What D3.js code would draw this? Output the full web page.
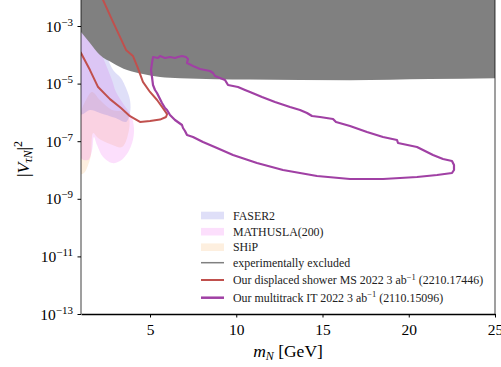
<!DOCTYPE html>
<html><head><meta charset="utf-8">
<script src="https://cdn.jsdelivr.net/npm/d3@7"></script>
<style>body{margin:0;background:#fff}svg{display:block}</style>
</head><body><svg id="c" width="501" height="367"></svg>
<script>
// ---- data ----
const xTicks = [5, 10, 15, 20, 25];
const yTickExps = [-3, -5, -7, -9, -11, -13];

// experimentally excluded boundary (m_N, log10 |V|^2)
const exclM    = [1.0, 1.52, 2.10, 2.86, 3.67, 4.59, 5.58, 6.74, 10.8, 16.6, 21.2, 25.0];
const exclLogV = [-3.21, -3.59, -4.01, -4.29, -4.53, -4.67, -4.77, -4.81, -4.86, -4.88, -4.84, -4.81];

// FASER2
const faserM    = [1.0, 1.41, 1.81, 2.10, 2.45, 2.86, 3.32, 3.61, 3.84, 3.84, 3.61, 2.97, 2.10, 1.52, 1.0];
const faserLogV = [-1.9, -2.44, -3.14, -3.66, -4.01, -4.53, -4.81, -5.15, -5.57, -6.02, -6.33, -6.19, -6.02, -5.92, -6.06];

// MATHUSLA(200)
const mathM    = [1.0, 1.29, 1.64, 2.10, 2.45, 2.80, 3.03, 3.49, 3.90, 4.07, 4.01, 3.73, 3.26, 2.80, 2.28, 1.93, 1.75, 1.64, 1.41, 1.0];
const mathLogV = [-1.9, -2.44, -3.14, -3.83, -4.35, -4.88, -5.29, -5.74, -6.09, -6.54, -6.96, -7.38, -7.69, -7.76, -7.55, -7.13, -6.85, -7.31, -7.65, -7.58];

// SHiP
const shipM    = [1.0, 1.29, 1.64, 2.10, 2.80, 3.55, 3.78, 3.78, 3.38, 2.68, 1.99, 1.70, 1.58, 1.41, 1.23, 1.0];
const shipLogV = [-6.02, -5.57, -5.29, -5.57, -5.92, -5.99, -6.19, -6.61, -7.20, -7.10, -6.89, -6.72, -7.48, -7.83, -8.07, -8.14];

// displaced shower MS
const redM    = [2.16, 2.28, 2.80, 3.26, 3.61, 4.01, 4.30, 4.59, 5.00, 5.41, 5.75, 5.99, 5.93, 5.58, 5.00, 4.42, 3.84, 3.32, 2.68, 1.99, 1.52, 1.00, 0.85];
const redLogV = [-1.93, -2.10, -2.79, -3.38, -3.83, -4.04, -4.46, -4.94, -5.29, -5.57, -5.85, -6.06, -6.16, -6.25, -6.30, -6.33, -6.13, -5.85, -5.54, -5.12, -4.53, -3.94, -3.80];

// multitrack IT
const purM = [5.174, 5.464, 5.580, 5.870, 6.159, 6.449, 6.623, 6.855, 7.087, 7.203, 7.145, 7.493, 7.899, 8.188, 8.478, 8.652, 8.768, 9.348, 9.522, 10.101, 10.507, 10.797, 11.493, 12.246, 13.116, 13.696, 14.101, 14.391, 14.855, 15.609, 15.783, 16.594, 17.580, 18.507, 19.319, 19.377, 20.478, 21.406, 21.986, 22.507, 22.623, 22.623, 22.507, 21.638, 20.478, 18.507, 16.594, 14.681, 12.710, 11.203, 9.812, 8.884, 8.072, 7.493, 7.145, 7.029, 6.913, 6.855, 6.449, 6.159, 5.986, 5.870, 5.696, 5.406, 5.290, 5.174, 5.116, 5.058, 5.116];
const purLogV = [-4.076, -4.111, -4.042, -4.111, -4.076, -4.111, -4.076, -4.042, -4.076, -4.146, -4.285, -4.389, -4.493, -4.528, -4.563, -4.632, -4.736, -4.875, -5.049, -5.118, -5.222, -5.292, -5.465, -5.639, -5.813, -5.917, -6.021, -6.125, -6.160, -6.229, -6.333, -6.472, -6.681, -6.854, -6.958, -7.063, -7.201, -7.479, -7.618, -7.688, -7.826, -8.0, -8.104, -8.174, -8.243, -8.313, -8.313, -8.208, -8.0, -7.757, -7.479, -7.236, -7.028, -6.854, -6.785, -6.646, -6.542, -6.438, -6.264, -6.090, -5.917, -5.847, -5.674, -5.326, -5.222, -5.049, -4.771, -4.528, -4.285];

const legendLabels = ["FASER2", "MATHUSLA(200)", "SHiP", "experimentally excluded",
  ["Our displaced shower MS 2022 3 ab", "\u22121", " (2210.17446)"],
  ["Our multitrack IT 2022 3 ab", "\u22121", " (2110.15096)"]];

// ---- drawing ----
const svg = d3.select("#c");
const X0 = 81, X1 = 495, Y0 = 314;
const x = d3.scaleLinear().domain([1, 25]).range([X0, X1]);
const y = d3.scaleLog().domain([1e-13, 1e-2]).range([Y0, Y0 - 11 * 28.8]);
const pts = (ms, ls) => ms.map((m, i) => [m, Math.pow(10, ls[i])]);

svg.append("defs").append("clipPath").attr("id", "clip")
  .append("rect").attr("x", X0).attr("y", -5).attr("width", X1 - X0).attr("height", Y0 + 5);
const g = svg.append("g").attr("clip-path", "url(#clip)");

const line = d3.line().x(d => x(d[0])).y(d => y(d[1]));
const closedSmooth = d3.line().x(d => x(d[0])).y(d => y(d[1])).curve(d3.curveCatmullRomClosed.alpha(0.5));

// shaded projections
const regions = [
  {m: shipM, v: shipLogV, fill: "#f5b060", op: 0.2},
  {m: mathM, v: mathLogV, fill: "#f060f0", op: 0.2},
  {m: faserM, v: faserLogV, fill: "#6f6fe0", op: 0.22},
];
regions.forEach(r => {
  g.append("path").attr("d", closedSmooth(pts(r.m, r.v)))
    .attr("fill", r.fill).attr("fill-opacity", r.op).attr("stroke", "none");
});

// excluded region
const excl = pts(exclM, exclLogV);
const exclArea = d3.area().x(d => x(d[0])).y0(d => y(d[1])).y1(y(1)).curve(d3.curveMonotoneX);
g.append("path").attr("d", exclArea(excl)).attr("fill", "#808080");

// red curve
g.append("path").attr("d", line(pts(redM, redLogV)))
  .attr("fill", "none").attr("stroke", "#c0504d").attr("stroke-width", 2).attr("stroke-linejoin", "round");

// purple curve
g.append("path").attr("d", line(pts(purM, purLogV)) + "Z")
  .attr("fill", "none").attr("stroke", "#a040a4").attr("stroke-width", 2.2).attr("stroke-linejoin", "round");

// axes
const serif = "'Liberation Serif', 'DejaVu Serif', serif";
const xAxis = svg.append("g").attr("transform", `translate(0,${Y0})`)
  .call(d3.axisBottom(x).tickValues(xTicks).tickSize(3.5).tickSizeOuter(0).tickPadding(4));
xAxis.select(".domain").attr("stroke", "#000").attr("stroke-width", 1.3);
xAxis.selectAll(".tick line").attr("stroke", "#000").attr("stroke-width", 1);
xAxis.selectAll(".tick text").attr("font-family", serif).attr("font-size", 15.5).attr("fill", "#000")
  .attr("dy", null).attr("y", 21);

const yAxis = svg.append("g").attr("transform", `translate(${X0},0)`)
  .call(d3.axisLeft(y).tickValues(yTickExps.map(e => Math.pow(10, e))).tickSize(3.5).tickSizeOuter(0).tickFormat(""));
yAxis.select(".domain").remove();
yAxis.selectAll(".tick line").attr("stroke", "#000").attr("stroke-width", 1);
yAxis.selectAll(".tick").each(function(d) {
  const t = d3.select(this).append("text").attr("x", -8).attr("y", 5)
    .attr("text-anchor", "end").attr("font-family", serif).attr("font-size", 15.5).attr("fill", "#000");
  t.append("tspan").text("10");
  t.append("tspan").attr("dy", -6).attr("font-size", 11).text("\u2212" + Math.round(-Math.log10(d)));
});

// left and right spines
svg.append("line").attr("x1", X0).attr("x2", X0).attr("y1", -5).attr("y2", Y0)
  .attr("stroke", "#000").attr("stroke-opacity", 0.5).attr("stroke-width", 1.5);
svg.append("line").attr("x1", X1).attr("x2", X1).attr("y1", -5).attr("y2", Y0)
  .attr("stroke", "#000").attr("stroke-opacity", 0.5).attr("stroke-width", 1.5);

// axis labels
const xl = svg.append("text").attr("x", (X0 + X1) / 2).attr("y", 357).attr("text-anchor", "middle")
  .attr("font-family", serif).attr("font-size", 17.5).attr("fill", "#000");
xl.append("tspan").attr("font-style", "italic").text("m");
xl.append("tspan").attr("font-style", "italic").attr("font-size", 12).attr("dy", 3).text("N");
xl.append("tspan").attr("dy", -3).text(" [GeV]");

const yl = svg.append("text").attr("transform", "translate(29,159) rotate(-90)").attr("text-anchor", "middle")
  .attr("font-family", serif).attr("font-size", 17.5).attr("fill", "#000");
yl.append("tspan").text("|");
yl.append("tspan").attr("font-style", "italic").text("V");
yl.append("tspan").attr("font-style", "italic").attr("font-size", 12).attr("dy", 3).text("\u03c4N");
yl.append("tspan").attr("dy", -3).text("|");
yl.append("tspan").attr("font-size", 12).attr("dy", -7).text("2");

// legend
const legY = [215.5, 231.7, 247.2, 262.7, 280, 297.7];
const legend = svg.append("g");
const swatch = [
  {type: "rect", fill: "#6f6fe0", op: 0.22},
  {type: "rect", fill: "#f060f0", op: 0.2},
  {type: "rect", fill: "#f5b060", op: 0.2},
  {type: "line", stroke: "#808080", w: 1.5},
  {type: "line", stroke: "#c0504d", w: 2},
  {type: "line", stroke: "#a040a4", w: 2.5},
];
legendLabels.forEach((lab, i) => {
  const cy = legY[i], s = swatch[i];
  if (s.type === "rect") {
    legend.append("rect").attr("x", 201).attr("y", cy - 3.8).attr("width", 23).attr("height", 7.6)
      .attr("fill", s.fill).attr("fill-opacity", s.op);
  } else {
    legend.append("line").attr("x1", 201).attr("x2", 224).attr("y1", cy).attr("y2", cy)
      .attr("stroke", s.stroke).attr("stroke-width", s.w);
  }
  const t = legend.append("text").attr("x", 233).attr("y", cy + 4)
    .attr("font-family", serif).attr("font-size", 11.9).attr("fill", "#222");
  if (Array.isArray(lab)) {
    t.append("tspan").text(lab[0]);
    t.append("tspan").attr("font-size", 8.5).attr("dy", -4.5).text(lab[1]);
    t.append("tspan").attr("dy", 4.5).text(lab[2]);
  } else t.text(lab);
});
</script></body></html>
